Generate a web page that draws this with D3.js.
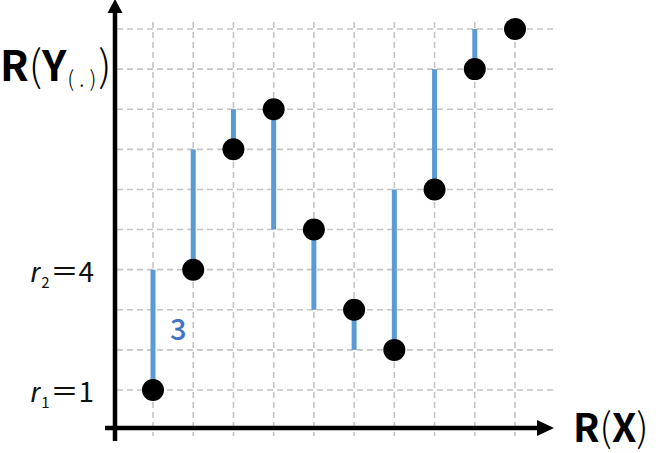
<!DOCTYPE html>
<html>
<head>
<meta charset="utf-8">
<script src="https://cdn.jsdelivr.net/npm/d3@7"></script>
<style>
  body { margin: 0; background: #fff; }
  text { font-family: "Noto Sans CJK JP", "Noto Sans", sans-serif; }
</style>
</head>
<body>
<script>
// rank of X (position) and rank of Y for each point
var xRanks = [1, 2, 3, 4, 5, 6, 7, 8, 9, 10]
var yRanks = [1, 4, 7, 8, 5, 3, 2, 6, 9, 10]
var gridRanks = [1, 2, 3, 4, 5, 6, 7, 8, 9, 10]
var tickLabels = [{r: 1, name: "1", val: "1"}, {r: 4, name: "2", val: "4"}]
var diffLabel = {r: 2.5, at: 1, text: "3"}

var W = 656, H = 453
var svg = d3.select("body").append("svg")
  .attr("width", W).attr("height", H)

var x = d3.scaleLinear().domain([1, 10]).range([153, 515])
var y = d3.scaleLinear().domain([1, 10]).range([390, 29])

var axisX = 115, axisY = 428, gridRight = 553

// dashed grid
var grid = svg.append("g")
  .attr("stroke", "#c4c4c4").attr("stroke-width", 1.6)
  .attr("stroke-dasharray", "6,4")
grid.selectAll(".h").data(gridRanks).enter().append("line")
  .attr("x1", axisX + 2).attr("x2", gridRight)
  .attr("y1", function(d){ return y(d) }).attr("y2", function(d){ return y(d) })
grid.selectAll(".v").data(gridRanks).enter().append("line")
  .attr("y1", 22).attr("y2", 436)
  .attr("x1", function(d){ return x(d) }).attr("x2", function(d){ return x(d) })

// blue connectors: from each point up/down to the next point's rank
var segs = d3.range(xRanks.length - 1).map(function(i){
  return {x: xRanks[i], y0: yRanks[i], y1: yRanks[i + 1]}
})
svg.append("g").selectAll("line").data(segs).enter().append("line")
  .attr("x1", function(d){ return x(d.x) }).attr("x2", function(d){ return x(d.x) })
  .attr("y1", function(d){ return y(d.y0) }).attr("y2", function(d){ return y(d.y1) })
  .attr("stroke", "#5b9bd5").attr("stroke-width", 5)

// axes
svg.append("line").attr("x1", axisX).attr("x2", axisX).attr("y1", 10).attr("y2", 441)
  .attr("stroke", "#000").attr("stroke-width", 4.5)
svg.append("path").attr("d", "M" + (axisX - 7.5) + ",13 L" + axisX + ",-1 L" + (axisX + 7.5) + ",13 Z")
  .attr("fill", "#000")
svg.append("line").attr("x1", 105).attr("x2", 540).attr("y1", axisY).attr("y2", axisY)
  .attr("stroke", "#000").attr("stroke-width", 4.5)
svg.append("path").attr("d", "M537," + (axisY - 8) + " L554," + axisY + " L537," + (axisY + 8) + " Z")
  .attr("fill", "#000")

// points
svg.append("g").selectAll("circle").data(xRanks).enter().append("circle")
  .attr("cx", function(d){ return x(d) })
  .attr("cy", function(d, i){ return y(yRanks[i]) })
  .attr("r", 11).attr("fill", "#000")

// difference label
svg.append("text").attr("x", x(diffLabel.at) + 17).attr("y", y(diffLabel.r) + 10)
  .attr("font-size", 29).attr("font-weight", 500).attr("fill", "#4472c4")
  .text(diffLabel.text)

// rank labels on y axis
var tl = svg.append("g").selectAll("text").data(tickLabels).enter().append("text")
  .attr("x", 94).attr("y", function(d){ return y(d.r) + 12 })
  .attr("text-anchor", "end").attr("font-size", 28).attr("fill", "#111")
tl.append("tspan").attr("font-style", "italic").attr("font-family", "Liberation Sans").text("r")
tl.append("tspan").attr("font-size", 15).attr("dy", 6).attr("dx", 1).text(function(d){ return d.name })
tl.append("tspan").attr("dy", -6).attr("dx", 1).text(function(d){ return "\uFF1D" + d.val })

// axis titles
var yt = svg.append("text").attr("x", 0).attr("y", 81).attr("font-size", 42).attr("fill", "#000")
yt.append("tspan").attr("font-weight", 700).text("R")
yt.append("tspan").attr("font-weight", 300).text("(")
yt.append("tspan").attr("font-weight", 700).text("Y")
yt.append("tspan").attr("font-size", 22).attr("font-weight", 300).attr("dy", 6).attr("dx", 1).text("( . )")
yt.append("tspan").attr("font-weight", 300).attr("dy", -6).attr("dx", 2).text(")")

var xt = svg.append("text").attr("x", 573).attr("y", 442).attr("font-size", 39).attr("fill", "#000")
xt.append("tspan").attr("font-weight", 700).text("R")
xt.append("tspan").attr("font-weight", 300).text("(")
xt.append("tspan").attr("font-weight", 700).text("X")
xt.append("tspan").attr("font-weight", 300).text(")")
</script>
</body>
</html>
